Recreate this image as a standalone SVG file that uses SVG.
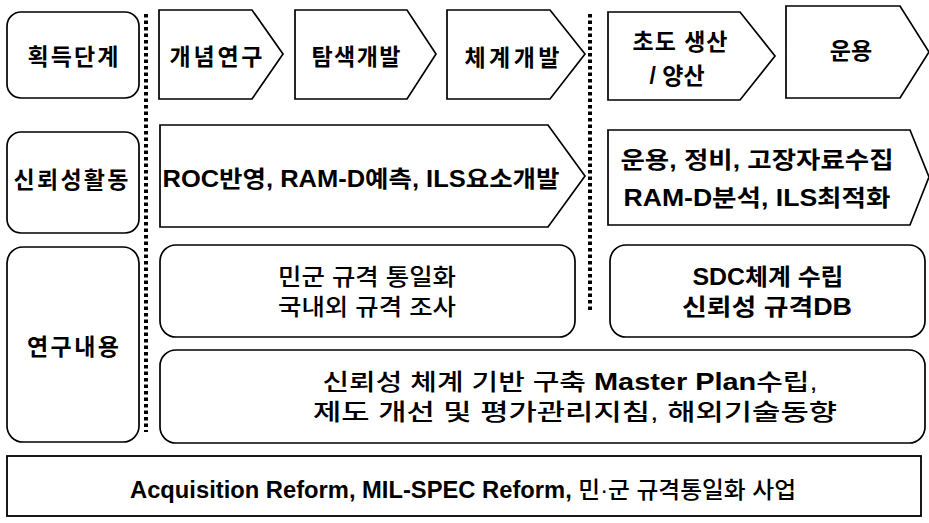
<svg xmlns="http://www.w3.org/2000/svg" width="929" height="523" viewBox="0 0 929 523">
<style>
.box{fill:#fff;stroke:#000;stroke-width:1.7}
.dot{stroke:#000;stroke-width:4;stroke-dasharray:3.5 3;fill:none}
text{font-family:"Liberation Sans","Noto Sans CJK KR",sans-serif;font-size:23px;font-weight:700;fill:#000;text-anchor:middle;dominant-baseline:central}
.reg{font-weight:500}
</style>
<rect width="929" height="523" fill="#fff"/>
<g id="connectors">
<line class="dot" x1="146" y1="14" x2="146" y2="432"/>
<line class="dot" x1="590" y1="14" x2="590" y2="312"/>
</g>
<g id="n-acq"><rect class="box" x="7" y="12" width="132" height="86" rx="14"/><text x="73" y="57" textLength="91" lengthAdjust="spacing">획득단계</text></g>
<g id="n-concept"><path class="box" d="M159,10 H252 L283,54 L252,99 H159 Z"/><text x="216" y="57" textLength="93" lengthAdjust="spacing">개념연구</text></g>
<g id="n-explore"><path class="box" d="M295,10 H407 L436,54 L407,99 H295 Z"/><text x="356" y="57" textLength="89" lengthAdjust="spacing">탐색개발</text></g>
<g id="n-system"><path class="box" d="M447,10 H550 L585,54 L550,99 H447 Z"/><text x="512" y="58" textLength="95" lengthAdjust="spacing">체계개발</text></g>
<g id="n-prod"><path class="box" d="M608,12 H740 L775,56 L740,100 H608 Z"/><text x="680" y="42" textLength="95" lengthAdjust="spacing">초도 생산</text><text x="677" y="76">/ 양산</text></g>
<g id="n-ops"><path class="box" d="M786,6 H900 L929,52 L900,98 H786 Z"/><text x="851" y="51">운용</text></g>
<g id="n-rel"><rect class="box" x="7" y="132" width="132" height="101" rx="14"/><text x="71" y="180" textLength="115" lengthAdjust="spacing">신뢰성활동</text></g>
<g id="n-roc"><path class="box" d="M160,125 H548 L585,176 L548,227 H160 Z"/><text x="361" y="179" textLength="397" lengthAdjust="spacingAndGlyphs">ROC반영, RAM-D예측, ILS요소개발</text></g>
<g id="n-opsdata"><path class="box" d="M608,130 H910 L929,177 L910,225 H608 Z"/><text x="757" y="160" textLength="273" lengthAdjust="spacingAndGlyphs">운용, 정비, 고장자료수집</text><text x="757" y="198" textLength="267" lengthAdjust="spacingAndGlyphs">RAM-D분석, ILS최적화</text></g>
<g id="n-research"><rect class="box" x="7" y="247" width="132" height="195" rx="16"/><text x="73" y="347" textLength="92" lengthAdjust="spacing">연구내용</text></g>
<g id="n-std"><rect class="box" x="160" y="245" width="415" height="92" rx="16"/><text class="reg" x="367" y="277" textLength="178" lengthAdjust="spacingAndGlyphs">민군 규격 통일화</text><text class="reg" x="367" y="307" textLength="178" lengthAdjust="spacingAndGlyphs">국내외 규격 조사</text></g>
<g id="n-sdc"><rect class="box" x="610" y="245" width="315" height="92" rx="16"/><text x="768" y="277" textLength="151" lengthAdjust="spacingAndGlyphs">SDC체계 수립</text><text x="767" y="307" textLength="170" lengthAdjust="spacingAndGlyphs">신뢰성 규격DB</text></g>
<g id="n-master"><rect class="box" x="160" y="350" width="765" height="93" rx="16"/><text x="570" y="382" textLength="495" lengthAdjust="spacingAndGlyphs"><tspan class="reg">신뢰성 체계 기반 구축 </tspan>Master Plan<tspan class="reg">수립,</tspan></text><text class="reg" x="575" y="412" textLength="524" lengthAdjust="spacingAndGlyphs">제도 개선  및 평가관리지침, 해외기술동향</text></g>
<g id="n-reform"><rect x="7" y="456" width="914" height="60" fill="#fff" stroke="#000" stroke-width="1.8"/><text x="463" y="490" font-size="24" textLength="666" lengthAdjust="spacingAndGlyphs">Acquisition Reform, MIL-SPEC Reform, <tspan class="reg">민·군 규격통일화 사업</tspan></text></g>
</svg>
